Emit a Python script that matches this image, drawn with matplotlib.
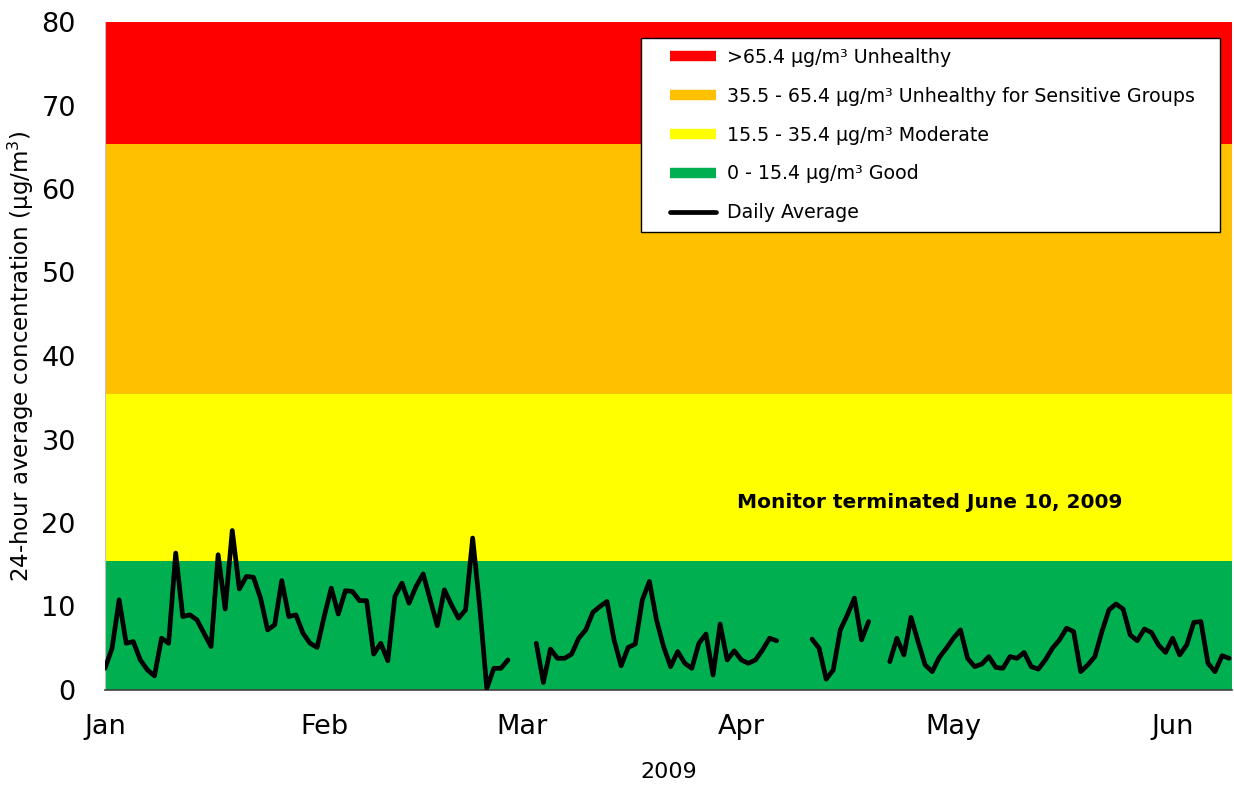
import numpy as np
import pandas as pd
import matplotlib
matplotlib.use("Agg")
import matplotlib.pyplot as plt
import matplotlib.dates as mdates
from matplotlib.lines import Line2D
from matplotlib.legend_handler import HandlerLine2D

plt.rcParams["font.family"] = ["DejaVu Sans"]

nan = np.nan

# Daily average PM2.5 (µg/m³), Jan 1 – Jun 9, 2009; NaN = no sample
daily_avg = [
    2.6, 5.0, 10.8, 5.6, 5.8, 3.6, 2.4, 1.7, 6.2, 5.6,
    16.4, 8.8, 9.0, 8.4, 6.8, 5.2, 16.2, 9.7, 19.1, 12.1,
    13.6, 13.5, 11.0, 7.2, 7.8, 13.1, 8.8, 9.0, 6.8, 5.6,
    5.1, 8.8, 12.2, 9.1, 11.9, 11.8, 10.7, 10.7, 4.3, 5.6,
    3.5, 11.2, 12.8, 10.4, 12.4, 13.9, 10.8, 7.7, 12.0, 10.2,
    8.6, 9.6, 18.2, 10.0, 0.2, 2.6, 2.6, 3.6, nan, nan,
    nan, 5.6, 0.9, 4.9, 3.8, 3.8, 4.3, 6.2, 7.2, 9.3,
    10.0, 10.6, 6.0, 2.9, 5.1, 5.5, 10.8, 13.0, 8.4, 5.2,
    2.8, 4.6, 3.2, 2.6, 5.6, 6.7, 1.8, 7.9, 3.6, 4.7,
    3.6, 3.2, 3.6, 4.8, 6.2, 5.9, nan, nan, nan, nan,
    6.1, 5.0, 1.3, 2.4, 7.2, 9.0, 11.0, 6.0, 8.2, nan,
    nan, 3.4, 6.2, 4.2, 8.7, 5.8, 3.0, 2.2, 3.9, 5.0,
    6.2, 7.2, 3.8, 2.8, 3.1, 4.0, 2.7, 2.6, 4.0, 3.8,
    4.5, 2.8, 2.5, 3.6, 5.0, 6.0, 7.4, 7.0, 2.2, 3.0,
    4.0, 7.0, 9.6, 10.3, 9.7, 6.6, 5.9, 7.3, 6.9, 5.4,
    4.5, 6.2, 4.2, 5.4, 8.1, 8.2, 3.2, 2.2, 4.1, 3.8,
]
dates = pd.date_range("2009-01-01", periods=len(daily_avg), freq="D")

# AQI categories for 24-hour PM2.5
band_labels = [
    ">65.4 µg/m\u00b3 Unhealthy",
    "35.5 - 65.4 µg/m\u00b3 Unhealthy for Sensitive Groups",
    "15.5 - 35.4 µg/m\u00b3 Moderate",
    "0 - 15.4 µg/m\u00b3 Good",
]
band_lower = [65.4, 35.4, 15.4, 0.0]
band_upper = [80.0, 65.4, 35.4, 15.4]
band_colors = ["#FF0000", "#FFC000", "#FFFF00", "#00B050"]

y_ticks = [0, 10, 20, 30, 40, 50, 60, 70, 80]

fig = plt.figure(figsize=(12.34, 7.85), dpi=100)
ax = fig.add_axes([105 / 1234, 1 - 690 / 785, 1127 / 1234, 668 / 785])

for lo, hi, c in zip(band_lower, band_upper, band_colors):
    ax.axhspan(lo, hi, color=c, lw=0, zorder=0)

ax.plot(dates, daily_avg, color="black", lw=3.4, solid_joinstyle="round",
        solid_capstyle="round", zorder=3)

start = pd.Timestamp("2009-01-01")
ax.set_xlim(start, start + pd.Timedelta(days=159.4))
ax.set_ylim(0, 80)
ax.set_yticks(y_ticks)
ax.xaxis.set_major_locator(mdates.MonthLocator())
ax.xaxis.set_major_formatter(mdates.DateFormatter("%b"))

ax.tick_params(axis="both", length=0, labelsize=19.5, colors="black")
ax.tick_params(axis="y", pad=21)
ax.tick_params(axis="x", pad=17)

for s in ("top", "right"):
    ax.spines[s].set_visible(False)
ax.spines["bottom"].set_color("#404040")
ax.spines["bottom"].set_linewidth(1.2)
ax.spines["left"].set_color("#bfbfbf")
ax.spines["left"].set_linewidth(0.8)

ax.set_xlabel("2009", fontsize=16, labelpad=16)
ax.set_ylabel("24-hour average concentration (µg/m$^3$)", fontsize=16.5, labelpad=4)

ax.text(0.732, 0.2814, "Monitor terminated June 10, 2009", transform=ax.transAxes,
        ha="center", va="center", fontsize=14.5, fontweight="bold")

handles = [Line2D([0], [0], color=c, lw=7.5, solid_capstyle="butt") for c in band_colors]
handles.append(Line2D([0], [0], color="black", lw=3.4, solid_capstyle="round"))
leg = ax.legend(handles, band_labels + ["Daily Average"],
                loc="upper left", bbox_to_anchor=(0.4756, 0.70, 0.5138, 0.276),
                mode="expand", borderaxespad=0, fontsize=13.7, frameon=True,
                fancybox=False, framealpha=1, edgecolor="black",
                handlelength=3.42, handletextpad=0.6, labelspacing=1.05,
                borderpad=0.5,
                handler_map={Line2D: HandlerLine2D(xpad=1.0)})
leg.get_frame().set_linewidth(1.0)

fig.savefig("out.png", dpi=100)
